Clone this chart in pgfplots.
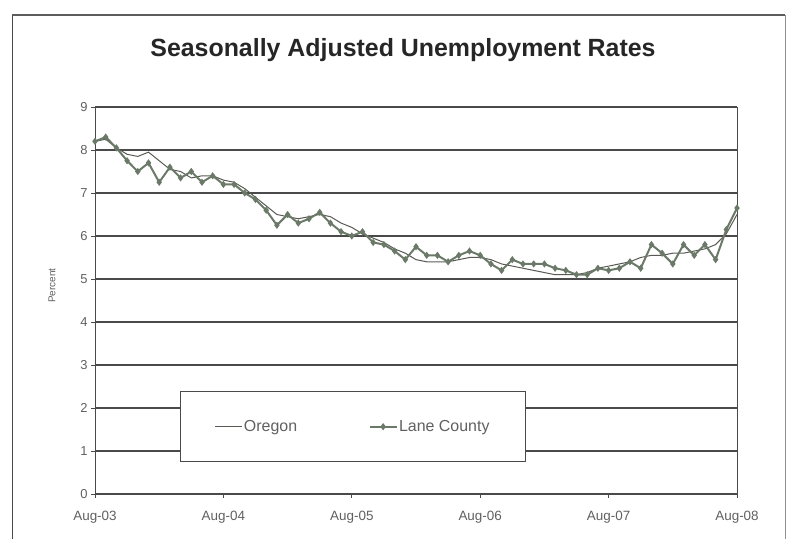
\documentclass[border=0pt]{standalone}
\usepackage{pgfplots}
\pgfplotsset{compat=1.18}
\usepackage{fontspec}
\setmainfont{Liberation Sans}
\definecolor{gridc}{HTML}{4A4A4A}
\definecolor{orc}{HTML}{5A5A55}
\definecolor{lanec}{HTML}{6B7A68}
\definecolor{txtc}{HTML}{606060}
\begin{document}
\begin{tikzpicture}[x=1bp,y=1bp]
\path[use as bounding box] (-95,-45) rectangle (700,494);
\draw[line width=0.8bp, gridc] (-83,-50) -- (-83,479);
\draw[line width=2bp, gridc!90] (-83,479) -- (690,479);
\draw[line width=0.8bp, gridc!60] (690,479) -- (690,-50);
\node[font=\bfseries\fontsize{25}{28}\selectfont, text=black!85] at (308,444) {Seasonally Adjusted Unemployment Rates};
\begin{axis}[
  at={(0,0)}, anchor=origin,
  scale only axis, width=642bp, height=387bp,
  xmin=0, xmax=60, ymin=0, ymax=9,
  xtick={0,12,24,36,48,60},
  xticklabels={Aug-03,Aug-04,Aug-05,Aug-06,Aug-07,Aug-08},
  ytick={0,1,...,9},
  ymajorgrids,
  grid style={line width=1.1bp, gridc},
  axis line style={line width=0.9bp, gridc},
  tick style={line width=0.8bp, gridc},
  tick align=outside, major tick length=4bp,
  xtick pos=bottom, ytick pos=left,
  ticklabel style={font=\fontsize{13.5}{15}\selectfont, text=txtc},
  yticklabel style={font=\fontsize{13}{15}\selectfont},
  /pgf/number format/assume math mode=true,
  xticklabel style={yshift=-10bp},
  ylabel={Percent}, ylabel style={font=\fontsize{10}{12}\selectfont, text=txtc, yshift=18bp, xshift=15bp},
  legend columns=2,
  legend style={at={(rel axis cs:0.1324,0.0827)}, anchor=south west,
    draw=gridc, line width=0.9bp, inner xsep=34bp, inner ysep=26.5bp,
    font=\fontsize{16}{18}\selectfont, text=txtc,
    nodes={inner xsep=1.5bp},
    /tikz/every even column/.append style={column sep=70bp}},
  legend image code/.code={\draw[mark repeat=2, mark phase=2, #1] plot coordinates {(0bp,0bp)(13.5bp,0bp)(27bp,0bp)};},
]
\addplot[orc, line width=1bp, no markers] coordinates {
(0,8.2)(1,8.25)(2,8.05)(3,7.9)(4,7.85)(5,7.95)(6,7.75)(7,7.55)(8,7.5)(9,7.35)
(10,7.4)(11,7.4)(12,7.3)(13,7.25)(14,7.1)(15,6.9)(16,6.7)(17,6.5)(18,6.45)(19,6.4)
(20,6.45)(21,6.5)(22,6.45)(23,6.3)(24,6.2)(25,6.05)(26,5.95)(27,5.85)(28,5.7)(29,5.6)
(30,5.45)(31,5.4)(32,5.4)(33,5.4)(34,5.45)(35,5.5)(36,5.5)(37,5.45)(38,5.35)(39,5.3)
(40,5.25)(41,5.2)(42,5.15)(43,5.1)(44,5.1)(45,5.1)(46,5.15)(47,5.25)(48,5.3)(49,5.35)
(50,5.4)(51,5.5)(52,5.55)(53,5.55)(54,5.6)(55,5.6)(56,5.65)(57,5.7)(58,5.8)(59,6.05)
(60,6.5)};
\addlegendentry{Oregon}
\addplot[lanec, line width=2bp, mark=diamond*, mark size=2bp, mark options={solid, fill=lanec}] coordinates {
(0,8.2)(1,8.3)(2,8.05)(3,7.75)(4,7.5)(5,7.7)(6,7.25)(7,7.6)(8,7.35)(9,7.5)
(10,7.25)(11,7.4)(12,7.2)(13,7.2)(14,7.0)(15,6.85)(16,6.6)(17,6.25)(18,6.5)(19,6.3)
(20,6.4)(21,6.55)(22,6.3)(23,6.1)(24,6.0)(25,6.1)(26,5.85)(27,5.8)(28,5.65)(29,5.45)
(30,5.75)(31,5.55)(32,5.55)(33,5.4)(34,5.55)(35,5.65)(36,5.55)(37,5.35)(38,5.2)(39,5.45)
(40,5.35)(41,5.35)(42,5.35)(43,5.25)(44,5.2)(45,5.1)(46,5.1)(47,5.25)(48,5.2)(49,5.25)
(50,5.4)(51,5.25)(52,5.8)(53,5.6)(54,5.35)(55,5.8)(56,5.55)(57,5.8)(58,5.45)(59,6.15)
(60,6.65)};
\addlegendentry{Lane County}
\end{axis}
\end{tikzpicture}
\end{document}
